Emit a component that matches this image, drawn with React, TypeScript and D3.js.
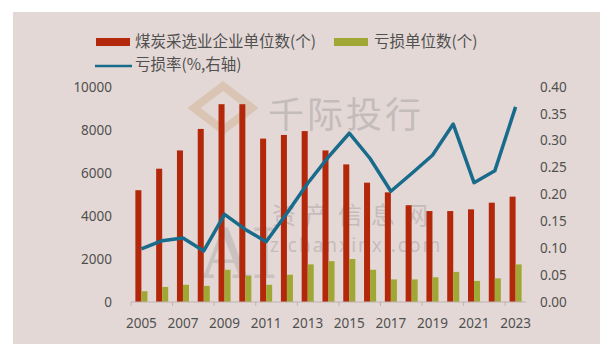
import * as d3 from "d3";

const years = ["2005", "2006", "2007", "2008", "2009", "2010", "2011", "2012", "2013", "2014", "2015", "2016", "2017", "2018", "2019", "2020", "2021", "2022", "2023"];
const enterprises = [5200, 6200, 7050, 8050, 9200, 9200, 7600, 7770, 7950, 7050, 6400, 5550, 5100, 4500, 4230, 4230, 4310, 4620, 4900];
const lossUnits = [500, 700, 800, 750, 1500, 1220, 800, 1270, 1750, 1900, 2000, 1500, 1050, 1050, 1150, 1400, 980, 1100, 1750];
const lossRate = [0.099, 0.114, 0.119, 0.095, 0.163, 0.135, 0.112, 0.165, 0.221, 0.27, 0.314, 0.267, 0.206, 0.239, 0.273, 0.331, 0.222, 0.244, 0.363];
const leftTicks = [0, 2000, 4000, 6000, 8000, 10000];
const rightTicks = [0, 0.05, 0.1, 0.15, 0.2, 0.25, 0.3, 0.35, 0.4];
const seriesNames = ["煤炭采选业企业单位数(个)", "亏损单位数(个)", "亏损率(%,右轴)"];

const RED = "#b3280b";
const GREEN = "#a1a735";
const BLUE = "#186b8b";
const TEXT = "#505050";
const NUM_FONT = "'Noto Sans', sans-serif";
const CJK_FONT = "'Noto Sans CJK SC', sans-serif";

export default function App() {
  const x = d3.scaleBand<string>().domain(years).range([131, 526]).padding(0);
  const yL = d3.scaleLinear().domain([0, 10000]).range([302, 87]);
  const yR = d3.scaleLinear().domain([0, 0.4]).range([302, 87]);
  const bw = x.bandwidth() * 0.29;
  const cx = (d: string) => (x(d) ?? 0) + x.bandwidth() / 2;

  const line = d3
    .line<number>()
    .x((_, i) => cx(years[i]))
    .y((d) => yR(d));

  return (
    <svg width={613} height={351} style={{ position: "absolute", left: 0, top: 0 }}>
      <rect x={0} y={0} width={613} height={351} fill="#ffffff" />
      <rect x={13} y={12} width={587} height={332} fill="#e4d8d6" />

      {/* watermark */}
      <g opacity={0.35}>
        <path d="M223,86 L252,108 L223,130 L194,108 Z" fill="none" stroke="#c9a27a" strokeWidth={8} />
        <text x={268} y={128} fontFamily={CJK_FONT} fontSize={36} fill="#8a8a8a" letterSpacing={3}>千际投行</text>
        <text x={200} y={278} fontFamily="'DejaVu Serif', serif" fontSize={70} fill="#9a9a9a">AI</text>
        <text x={272} y={224} fontFamily={CJK_FONT} fontSize={24} fill="#8a8a8a" letterSpacing={9}>资产信息网</text>
        <text x={270} y={252} fontFamily={NUM_FONT} fontSize={19} fill="#8a8a8a" letterSpacing={2}>zichanxinxi.com</text>
      </g>

      {/* legend */}
      <rect x={96} y={38} width={34} height={8} fill={RED} />
      <text x={135} y={42} dy="0.35em" fontFamily={CJK_FONT} fontSize={15.5} fill={TEXT}>{seriesNames[0]}</text>
      <rect x={334} y={38} width={34} height={8} fill={GREEN} />
      <text x={374} y={42} dy="0.35em" fontFamily={CJK_FONT} fontSize={15.5} fill={TEXT}>{seriesNames[1]}</text>
      <line x1={95} x2={132} y1={66} y2={66} stroke={BLUE} strokeWidth={2.5} />
      <text x={135} y={65} dy="0.35em" fontFamily={CJK_FONT} fontSize={15.5} fill={TEXT}>{seriesNames[2]}</text>

      {/* bars */}
      {years.map((yr, i) => (
        <g key={yr}>
          <rect x={cx(yr) - bw} y={yL(enterprises[i])} width={bw} height={yL(0) - yL(enterprises[i])} fill={RED} />
          <rect x={cx(yr)} y={yL(lossUnits[i])} width={bw} height={yL(0) - yL(lossUnits[i])} fill={GREEN} />
        </g>
      ))}

      {/* x axis */}
      <line x1={131} x2={526} y1={302} y2={302} stroke="#bdb3b1" strokeWidth={1} />
      {years.map((yr, i) =>
        i % 2 === 0 ? (
          <g key={"t" + yr}>
            <line x1={x(yr)} x2={x(yr)} y1={302} y2={306} stroke="#bdb3b1" />
            <text x={cx(yr)} y={323} dy="0.35em" textAnchor="middle" fontFamily={NUM_FONT} fontSize={13.5} fill={TEXT}>{yr}</text>
          </g>
        ) : null
      )}

      {/* left axis labels */}
      {leftTicks.map((v) => (
        <text key={"l" + v} x={112} y={yL(v)} dy="0.35em" textAnchor="end" fontFamily={NUM_FONT} fontSize={13.5} fill={TEXT}>{v}</text>
      ))}

      {/* right axis labels */}
      {rightTicks.map((v) => (
        <text key={"r" + v} x={540} y={yR(v)} dy="0.35em" fontFamily={NUM_FONT} fontSize={13.5} fill={TEXT}>{v.toFixed(2)}</text>
      ))}

      {/* loss rate line */}
      <path d={line(lossRate) ?? ""} fill="none" stroke={BLUE} strokeWidth={3.5} strokeLinejoin="round" />
    </svg>
  );
}
